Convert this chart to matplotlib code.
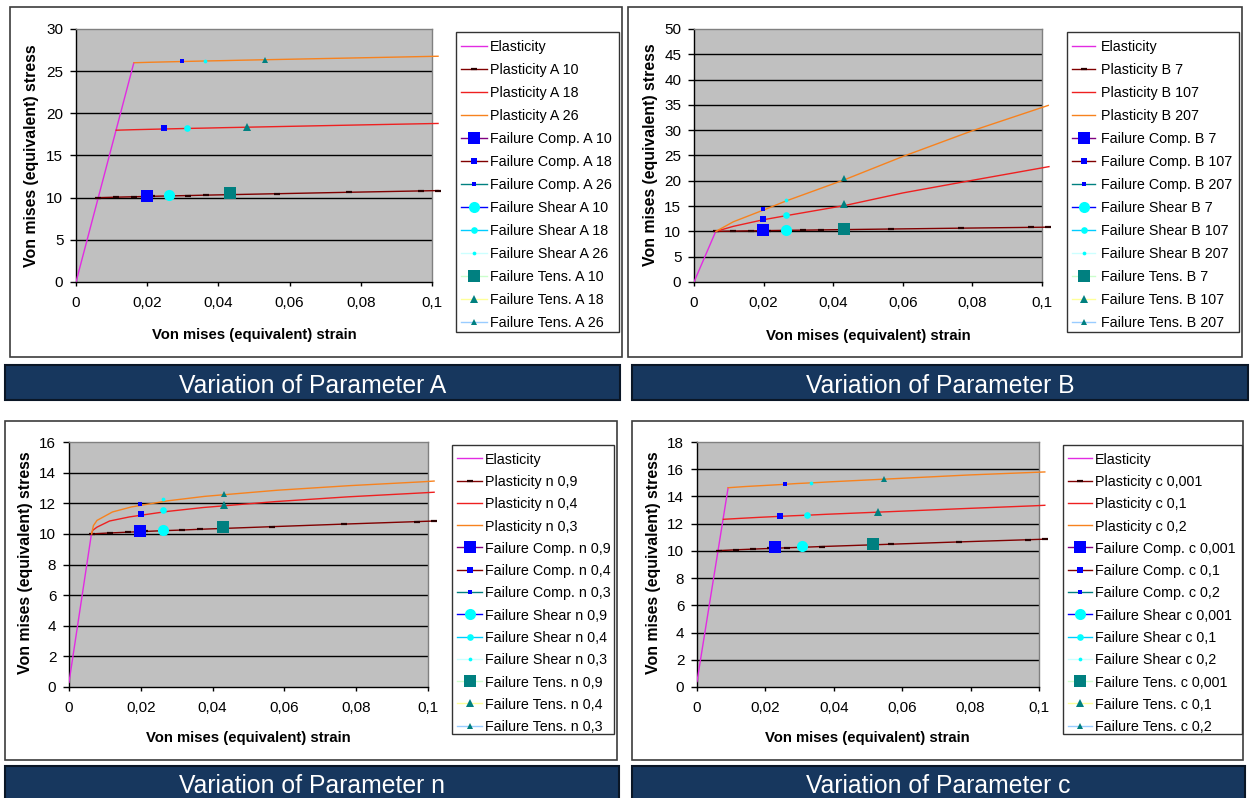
import matplotlib
matplotlib.use("Agg")
import matplotlib.pyplot as plt
from matplotlib.patches import Rectangle

plt.rcParams['font.family'] = ['Liberation Sans', 'DejaVu Sans']

# ------------------------------------------------------------------ data
x_ticks = [0, 0.02, 0.04, 0.06, 0.08, 0.1]
x_tick_labels = ['0', '0,02', '0,04', '0,06', '0,08', '0,1']
x_title = 'Von mises (equivalent) strain'
y_title = 'Von mises (equivalent) stress'

# Parameter A
a_values = ['10', '18', '26']
a_y_ticks = [0, 5, 10, 15, 20, 25, 30]
a_elastic_x = [0, 0.01625]
a_elastic_y = [0, 26]
a_plast_x = [
    [0.0063, 0.0113, 0.0163, 0.0213, 0.0264, 0.0314, 0.0364, 0.0565, 0.0767, 0.0968, 0.1017],
    [0.0113, 0.0163, 0.0213, 0.0264, 0.0314, 0.0364, 0.0415, 0.0615, 0.0817, 0.1017],
    [0.0163, 0.0213, 0.0264, 0.0314, 0.0365, 0.0415, 0.0465, 0.0666, 0.0867, 0.1017],
]
a_plast_y = [
    [10.0, 10.06, 10.11, 10.16, 10.21, 10.25, 10.30, 10.47, 10.64, 10.80, 10.84],
    [18.0, 18.06, 18.11, 18.16, 18.21, 18.25, 18.30, 18.47, 18.64, 18.80],
    [26.0, 26.06, 26.11, 26.16, 26.21, 26.25, 26.30, 26.47, 26.64, 26.77],
]
a_comp_x = [0.0199, 0.0248, 0.0298]
a_comp_y = [10.2, 18.26, 26.2]
a_shear_x = [0.0260, 0.0313, 0.0361]
a_shear_y = [10.28, 18.3, 26.24]
a_tens_x = [0.0432, 0.0481, 0.0532]
a_tens_y = [10.5, 18.4, 26.3]

# Parameter B
b_values = ['7', '107', '207']
b_y_ticks = [0, 5, 10, 15, 20, 25, 30, 35, 40, 45, 50]
b_elastic_x = [0, 0.00625]
b_elastic_y = [0, 10]
b_plast_x = [
    [0.0063, 0.0113, 0.0163, 0.0213, 0.0264, 0.0314, 0.0364, 0.0565, 0.0767, 0.0968, 0.1017],
    [0.0063, 0.0113, 0.0199, 0.0264, 0.0432, 0.0600, 0.0800, 0.1020],
    [0.0063, 0.0113, 0.0199, 0.0264, 0.0432, 0.0600, 0.0800, 0.1018],
]
b_plast_y = [
    [10.0, 10.06, 10.11, 10.16, 10.21, 10.25, 10.30, 10.47, 10.64, 10.80, 10.84],
    [10.0, 11.0, 12.3, 13.1, 15.1, 17.6, 20.1, 22.8],
    [10.0, 11.9, 14.2, 16.0, 20.2, 24.8, 29.9, 34.9],
]
b_comp_x = [0.0199, 0.0199, 0.0199]
b_comp_y = [10.28, 12.45, 14.36]
b_shear_x = [0.0264, 0.0264, 0.0264]
b_shear_y = [10.28, 13.24, 16.2]
b_tens_x = [0.0430, 0.0432, 0.0432]
b_tens_y = [10.4, 15.4, 20.5]

# Parameter n
n_values = ['0,9', '0,4', '0,3']
n_y_ticks = [0, 2, 4, 6, 8, 10, 12, 14, 16]
n_elastic_x = [0, 0.00625]
n_elastic_y = [0.3, 10]
n_plast_x = [
    [0.0063, 0.0113, 0.0163, 0.0213, 0.0264, 0.0314, 0.0364, 0.0565, 0.0767, 0.0968, 0.1017],
    [0.0063, 0.0066, 0.0078, 0.0113, 0.0169, 0.0272, 0.0373, 0.0576, 0.0778, 0.0979, 0.1017],
    [0.0063, 0.0068, 0.0078, 0.0121, 0.0174, 0.0276, 0.0378, 0.0580, 0.0782, 0.0984, 0.1017],
]
n_plast_y = [
    [10.0, 10.06, 10.11, 10.16, 10.21, 10.25, 10.30, 10.47, 10.64, 10.80, 10.84],
    [10.0, 10.23, 10.44, 10.84, 11.11, 11.46, 11.72, 12.11, 12.42, 12.67, 12.72],
    [10.0, 10.54, 10.88, 11.43, 11.76, 12.16, 12.45, 12.85, 13.15, 13.40, 13.45],
]
n_comp_x = [0.0199, 0.0200, 0.0199]
n_comp_y = [10.21, 11.3, 11.93]
n_shear_x = [0.0262, 0.0262, 0.0262]
n_shear_y = [10.25, 11.54, 12.26]
n_tens_x = [0.0430, 0.0431, 0.0431]
n_tens_y = [10.43, 11.87, 12.6]

# Parameter c
c_values = ['0,001', '0,1', '0,2']
c_y_ticks = [0, 2, 4, 6, 8, 10, 12, 14, 16, 18]
c_elastic_x = [0, 0.0091]
c_elastic_y = [0.4, 14.64]
c_plast_x = [
    [0.0063, 0.0113, 0.0163, 0.0214, 0.0264, 0.0314, 0.0365, 0.0566, 0.0767, 0.0968, 0.1017],
    [0.0077, 0.0127, 0.0178, 0.0228, 0.0279, 0.0329, 0.0379, 0.0581, 0.0782, 0.0983, 0.1017],
    [0.0091, 0.0142, 0.0193, 0.0243, 0.0293, 0.0344, 0.0394, 0.0596, 0.0797, 0.1017],
]
c_plast_y = [
    [10.02, 10.08, 10.13, 10.18, 10.23, 10.27, 10.32, 10.49, 10.66, 10.82, 10.86],
    [12.32, 12.39, 12.46, 12.52, 12.58, 12.63, 12.69, 12.90, 13.11, 13.31, 13.35],
    [14.64, 14.73, 14.80, 14.87, 14.95, 15.01, 15.08, 15.33, 15.58, 15.80],
]
c_comp_x = [0.0229, 0.0244, 0.0257]
c_comp_y = [10.26, 12.59, 14.91]
c_shear_x = [0.0306, 0.0321, 0.0333]
c_shear_y = [10.36, 12.61, 15.01]
c_tens_x = [0.0514, 0.0529, 0.0546]
c_tens_y = [10.51, 12.83, 15.26]

# ------------------------------------------------------------------ styles
W, H = 1250, 798
ELASTIC_COLOR = '#E22BE2'
PLAST_COLORS = ['#800000', '#EE2020', '#F7821E']
DASH_COLOR = '#2A0000'
COMP_COLOR, SHEAR_COLOR, TENS_COLOR = '#0000FF', '#00FFFF', '#008080'
COMP_SIZES = [8.0, 4.8, 3.1]
SHEAR_SIZES = [8.0, 4.8, 2.7]
TENS_MARKERS = ['s', '^', '^']
TENS_SIZES = [8.0, 5.3, 3.8]
COMP_LEG = ['#800080', '#800000', '#008080']
SHEAR_LEG = ['#0000FF', '#00CCFF', '#CCFFFF']
TENS_LEG = ['#CCFFCC', '#FFFF99', '#99CCFF']
BANNER_COLOR = '#17375E'
FRAME_EDGE = '#3C3C3C'

fig = plt.figure(figsize=(W / 100, H / 100), dpi=100)
fig.patch.set_facecolor('white')
bg = fig.add_axes([0, 0, 1, 1], zorder=0)
bg.set_xlim(0, W)
bg.set_ylim(H, 0)
bg.axis('off')


def px_axes(box):
    x0, y0, x1, y1 = box
    return fig.add_axes([x0 / W, 1 - y1 / H, (x1 - x0) / W, (y1 - y0) / H], zorder=2)


def draw_panel(letter, values, y_ticks, el_x, el_y, pl_x, pl_y,
               cx, cy, sx, sy, tx_, ty, geo):
    # outer white frame
    fx0, fy0, fx1, fy1 = geo['frame']
    bg.add_patch(Rectangle((fx0, fy0), fx1 - fx0, fy1 - fy0, fc='white',
                           ec=FRAME_EDGE, lw=1.2))
    # banner
    bx0, by0, bx1, by1 = geo['banner']
    bg.add_patch(Rectangle((bx0, by0), bx1 - bx0, by1 - by0, fc=BANNER_COLOR,
                           ec='#0A1626', lw=1.5))
    bg.text((bx0 + bx1) / 2, geo['title_y'], f'Variation of Parameter {letter}',
            color='white', fontsize=17.8, ha='center', va='baseline')

    ax = px_axes(geo['plot'])
    ax.set_facecolor('#C0C0C0')
    ax.set_xlim(0, 0.1)
    ax.set_ylim(y_ticks[0], y_ticks[-1])
    ax.set_xticks(x_ticks)
    ax.set_xticklabels(x_tick_labels)
    ax.set_yticks(y_ticks)
    ax.set_yticklabels([str(v) for v in y_ticks])
    for v in y_ticks[1:-1]:
        ax.axhline(v, color='black', lw=1.0, zorder=0.5)
    for side in ('top', 'right'):
        ax.spines[side].set_color('#808080')
    for side in ('left', 'bottom'):
        ax.spines[side].set_color('black')
    for sp in ax.spines.values():
        sp.set_linewidth(1.0)
    ax.tick_params(axis='y', direction='out', length=4.3, width=1, pad=4.8,
                   labelsize=11, colors='black')
    ax.tick_params(axis='x', direction='out', length=2.9, width=1, pad=7,
                   labelsize=11, colors='black')

    ax.plot(el_x, el_y, color=ELASTIC_COLOR, lw=1.0, zorder=3)
    for i in range(3):
        kw = {}
        if i == 0:
            kw = dict(marker='_', ms=4.5, mew=1.6, mec=DASH_COLOR)
        ax.plot(pl_x[i], pl_y[i], color=PLAST_COLORS[i], lw=1.0, zorder=3,
                clip_on=False, **kw)
    for i in range(3):
        ax.plot([cx[i]], [cy[i]], 's', ms=COMP_SIZES[i], color=COMP_COLOR,
                mew=0, zorder=4)
        ax.plot([sx[i]], [sy[i]], 'o', ms=SHEAR_SIZES[i], color=SHEAR_COLOR,
                mew=0, zorder=4)
        ax.plot([tx_[i]], [ty[i]], TENS_MARKERS[i], ms=TENS_SIZES[i],
                color=TENS_COLOR, mew=0, zorder=4)

    # axis titles
    xl, yl = geo['xlab'], geo['ylab']
    bg.text(xl[0], xl[1], x_title, fontsize=10.7, fontweight='bold',
            ha='center', va='center')
    bg.text(yl[0], yl[1], y_title, fontsize=11.4, fontweight='bold',
            ha='center', va='center', rotation=90)

    # legend
    entries = [('Elasticity', ELASTIC_COLOR, None, 0, None)]
    for i, v in enumerate(values):
        entries.append((f'Plasticity {letter} {v}', PLAST_COLORS[i],
                        '_' if i == 0 else None, 4.5, DASH_COLOR))
    for i, v in enumerate(values):
        entries.append((f'Failure Comp. {letter} {v}', COMP_LEG[i], 's',
                        COMP_SIZES[i], COMP_COLOR))
    for i, v in enumerate(values):
        entries.append((f'Failure Shear {letter} {v}', SHEAR_LEG[i], 'o',
                        SHEAR_SIZES[i], SHEAR_COLOR))
    for i, v in enumerate(values):
        entries.append((f'Failure Tens. {letter} {v}', TENS_LEG[i],
                        TENS_MARKERS[i], TENS_SIZES[i], TENS_COLOR))
    lx0, ly0, lx1, ly1 = geo['legend']
    bg.add_patch(Rectangle((lx0, ly0), lx1 - lx0, ly1 - ly0, fc='white',
                           ec='#333333', lw=1.0))
    hx0, hx1 = geo['hx']
    for k, (label, lc, mk, ms, mc) in enumerate(entries):
        yy = geo['leg_y0'] + k * geo['leg_dy']
        bg.plot([hx0, hx1], [yy, yy], color=lc, lw=1.0)
        if mk is not None:
            if mk == '_':
                bg.plot([(hx0 + hx1) / 2], [yy], mk, ms=ms, mew=1.6, color=mc)
            else:
                bg.plot([(hx0 + hx1) / 2], [yy], mk, ms=ms, mew=0, color=mc)
        bg.text(geo['tx'], yy, label, fontsize=10.3, ha='left',
                va='center_baseline')


geo_a = dict(frame=(10, 7, 622, 357), plot=(76, 29, 432, 282),
             legend=(456, 32, 619, 332), leg_y0=46, leg_dy=22.97,
             hx=(461, 487), tx=490, banner=(5, 365, 620, 400), title_y=393,
             ylab=(31.7, 155.5), xlab=(254, 335))
geo_b = dict(frame=(628, 7, 1242, 357), plot=(694, 29, 1042, 282),
             legend=(1067, 32, 1239, 332), leg_y0=46, leg_dy=22.97,
             hx=(1072, 1095), tx=1101, banner=(632, 365, 1248, 400), title_y=393,
             ylab=(650, 155), xlab=(868, 336))
geo_n = dict(frame=(5, 421, 617, 760), plot=(69, 442, 428, 687),
             legend=(452, 445, 614, 734), leg_y0=458.3, leg_dy=22.28,
             hx=(457, 482), tx=485, banner=(5, 766, 619, 801), title_y=793,
             ylab=(26, 562.5), xlab=(248.7, 738.3))
geo_c = dict(frame=(632, 421, 1243, 760), plot=(697, 442, 1039, 687),
             legend=(1063, 445, 1242, 734), leg_y0=458.3, leg_dy=22.28,
             hx=(1068, 1092), tx=1095, banner=(632, 766, 1245, 801), title_y=793,
             ylab=(653.3, 562.5), xlab=(867.5, 738.3))

draw_panel('A', a_values, a_y_ticks, a_elastic_x, a_elastic_y, a_plast_x, a_plast_y,
           a_comp_x, a_comp_y, a_shear_x, a_shear_y, a_tens_x, a_tens_y, geo_a)
draw_panel('B', b_values, b_y_ticks, b_elastic_x, b_elastic_y, b_plast_x, b_plast_y,
           b_comp_x, b_comp_y, b_shear_x, b_shear_y, b_tens_x, b_tens_y, geo_b)
draw_panel('n', n_values, n_y_ticks, n_elastic_x, n_elastic_y, n_plast_x, n_plast_y,
           n_comp_x, n_comp_y, n_shear_x, n_shear_y, n_tens_x, n_tens_y, geo_n)
draw_panel('c', c_values, c_y_ticks, c_elastic_x, c_elastic_y, c_plast_x, c_plast_y,
           c_comp_x, c_comp_y, c_shear_x, c_shear_y, c_tens_x, c_tens_y, geo_c)

fig.savefig('out.png', dpi=100, facecolor='white')
